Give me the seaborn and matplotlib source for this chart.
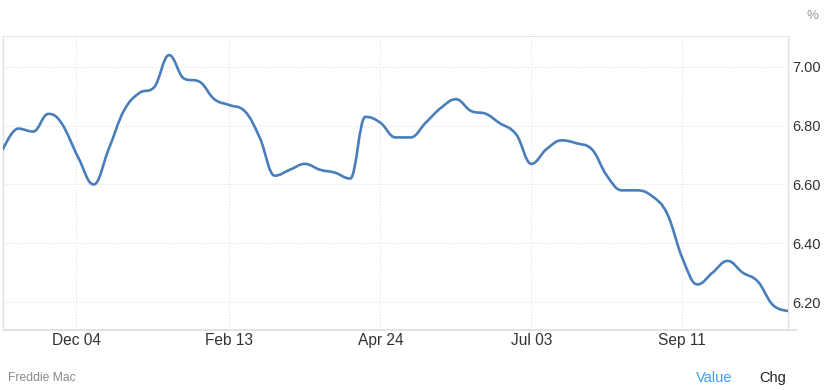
import numpy as np
import pandas as pd
import matplotlib
matplotlib.use("Agg")
import matplotlib.pyplot as plt
import matplotlib.dates as mdates
from matplotlib.path import Path
from matplotlib.patches import PathPatch
import seaborn as sns

# ---- data (Freddie Mac 30-yr fixed, weekly, %) ----
dates = ["2024-10-31", "2024-11-07", "2024-11-14", "2024-11-21", "2024-11-27",
         "2024-12-05", "2024-12-12", "2024-12-19", "2024-12-26", "2025-01-02",
         "2025-01-09", "2025-01-16", "2025-01-23", "2025-01-30", "2025-02-06",
         "2025-02-13", "2025-02-20", "2025-02-27", "2025-03-06", "2025-03-13",
         "2025-03-20", "2025-03-27", "2025-04-03", "2025-04-10", "2025-04-17",
         "2025-04-24", "2025-05-01", "2025-05-08", "2025-05-15", "2025-05-22",
         "2025-05-29", "2025-06-05", "2025-06-12", "2025-06-18", "2025-06-26",
         "2025-07-03", "2025-07-10", "2025-07-17", "2025-07-24", "2025-07-31",
         "2025-08-07", "2025-08-14", "2025-08-21", "2025-08-28", "2025-09-04",
         "2025-09-11", "2025-09-18", "2025-09-25", "2025-10-02", "2025-10-09",
         "2025-10-16", "2025-10-23", "2025-10-30"]
rates = [6.72, 6.79, 6.78, 6.84, 6.81,
         6.69, 6.60, 6.72, 6.85, 6.91,
         6.93, 7.04, 6.96, 6.95, 6.89,
         6.87, 6.85, 6.76, 6.63, 6.65,
         6.67, 6.65, 6.64, 6.62, 6.83,
         6.81, 6.76, 6.76, 6.81, 6.86,
         6.89, 6.85, 6.84, 6.81, 6.77,
         6.67, 6.72, 6.75, 6.74, 6.72,
         6.63, 6.58, 6.58, 6.56, 6.50,
         6.35, 6.26, 6.30, 6.34, 6.30,
         6.27, 6.19, 6.17]
tick_dates = ["2024-12-04", "2025-02-13", "2025-04-24", "2025-07-03", "2025-09-11"]
tick_labels = ["Dec 04", "Feb 13", "Apr 24", "Jul 03", "Sep 11"]
y_ticks = [6.20, 6.40, 6.60, 6.80, 7.00]
y_tick_labels = ["6.20", "6.40", "6.60", "6.80", "7.00"]

df = pd.DataFrame({"date": pd.to_datetime(dates), "rate": rates})

sns.set_theme(style="white")
plt.rcParams["font.family"] = ["Liberation Sans", "DejaVu Sans"]

fig = plt.figure(figsize=(8.31, 3.90), dpi=100)
W, H = 831, 390
L, R, T, B = 3, 788, 36, 330
ax = fig.add_axes([L / W, 1 - B / H, (R - L) / W, (B - T) / H])

line_color = "#4a7ebb"
sns.lineplot(data=df, x="date", y="rate", ax=ax, color=line_color, linewidth=1.9)

# Render the same weekly points as a Highcharts-style smooth spline
ln = ax.lines[0]
ln.set_visible(False)
xs = np.asarray(mdates.date2num(df["date"].dt.to_pydatetime()), dtype=float)
ys = np.asarray(df["rate"], dtype=float)

def controls(i):
    s = 1.5
    x, y = xs[i], ys[i]
    if i == 0 or i == len(xs) - 1:
        return (x, y), (x, y)
    lx = (s * x + xs[i - 1]) / (s + 1); ly = (s * y + ys[i - 1]) / (s + 1)
    rx = (s * x + xs[i + 1]) / (s + 1); ry = (s * y + ys[i + 1]) / (s + 1)
    if rx != lx:
        corr = (ry - ly) * (rx - x) / (rx - lx) + y - ry
        ly += corr; ry += corr
    py, ny = ys[i - 1], ys[i + 1]
    if ly > py and ly > y:
        ly = max(py, y); ry = 2 * y - ly
    elif ly < py and ly < y:
        ly = min(py, y); ry = 2 * y - ly
    if ry > ny and ry > y:
        ry = max(ny, y); ly = 2 * y - ry
    elif ry < ny and ry < y:
        ry = min(ny, y); ly = 2 * y - ry
    return (lx, ly), (rx, ry)

ctrl = [controls(i) for i in range(len(xs))]
verts = [(xs[0], ys[0])]
codes = [Path.MOVETO]
for i in range(1, len(xs)):
    verts += [ctrl[i - 1][1], ctrl[i][0], (xs[i], ys[i])]
    codes += [Path.CURVE4] * 3
ax.add_patch(PathPatch(Path(verts, codes), facecolor="none", edgecolor=line_color,
                       linewidth=1.9, capstyle="round", joinstyle="round", zorder=3))

# scales
ax.set_xlim(xs[0], xs[-1])
ax.set_ylim(6.105, 7.105)

ax.yaxis.tick_right()
ax.set_yticks(y_ticks)
ax.set_yticklabels(y_tick_labels)
ax.set_xticks(mdates.date2num(pd.to_datetime(tick_dates).to_pydatetime()))
ax.set_xticklabels(tick_labels)
ax.tick_params(axis="both", length=0, labelcolor="#333333")
ax.tick_params(axis="y", pad=3, labelsize=10.5)
ax.tick_params(axis="x", pad=2.5, labelsize=11.2)
ax.set_xlabel("")
ax.set_ylabel("")

grid_kw = dict(color="#dcdcdc", linewidth=0.7, linestyle=(0, (1, 2)))
ax.grid(True, which="major", axis="both", **grid_kw)
ax.set_axisbelow(True)

for side in ["left", "right"]:
    ax.spines[side].set_visible(True)
    ax.spines[side].set_color("#e3e3e3")
    ax.spines[side].set_linewidth(1.0)
ax.spines["top"].set_visible(True)
ax.spines["top"].set_color("#dcdcdc")
ax.spines["top"].set_linewidth(0.7)
ax.spines["top"].set_linestyle((0, (1, 2)))
ax.spines["bottom"].set_visible(False)
ax.plot([0, (797 - L) / (R - L)], [0, 0], transform=ax.transAxes, color="#dddddd",
        linewidth=1.2, clip_on=False, zorder=2)

# texts
fig.text(812 / W, 1 - 16 / H, "%", color="#999999", fontsize=9.5, ha="center", va="center")
fig.text(8 / W, 1 - 378 / H, "Freddie Mac", color="#888888", fontsize=8.7, ha="left", va="center")
fig.text(696 / W, 1 - 378 / H, "Value", color="#3d9df5", fontsize=10.5, ha="left", va="center")
fig.text(759 / W, 1 - 378 / H, "Chg", color="#222222", fontsize=10.5, ha="left", va="center")

fig.savefig("out.png", dpi=100)
